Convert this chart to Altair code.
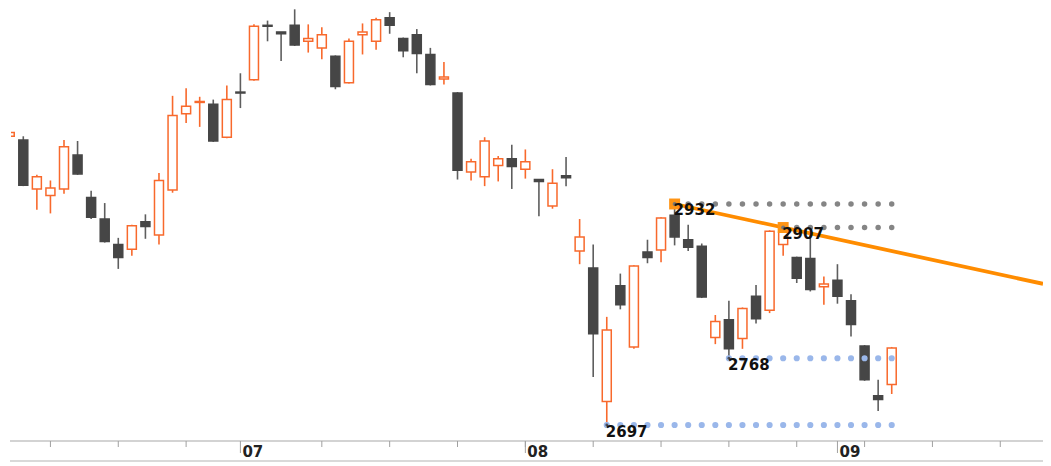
import altair as alt
import pandas as pd

# ---- candle data (trading-day index 0..65) ----
opens = [3004, 3000, 2948, 2941, 2948, 2984, 2939, 2916, 2889, 2884,
         2913, 2899, 2947, 3028, 3040, 3038, 3003, 3051, 3064, 3122,
         3115, 3122, 3105, 3098, 3089, 3061, 3112, 3105, 3130, 3108,
         3112, 3091, 3065, 3050, 2966, 2961, 2973, 2980, 2969, 2958,
         2930, 2962, 2882, 2864, 2722, 2845, 2780, 2881, 2883, 2920,
         2894, 2887, 2790, 2809, 2789, 2834, 2819, 2889, 2875, 2874,
         2844, 2851, 2829, 2781, 2728, 2740]
highs = [3009, 3004, 2963, 2957, 3000, 2999, 2946, 2933, 2896, 2910,
         2921, 2965, 3047, 3055, 3046, 3043, 3058, 3071, 3123, 3127,
         3115, 3139, 3123, 3120, 3090, 3108, 3124, 3130, 3136, 3109,
         3118, 3098, 3083, 3051, 2980, 3003, 2983, 2995, 2990, 2958,
         2969, 2982, 2916, 2889, 2812, 2858, 2867, 2894, 2918, 2932,
         2910, 2890, 2814, 2829, 2822, 2846, 2904, 2907, 2876, 2899,
         2855, 2868, 2836, 2782, 2745, 2780]
lows = [3003, 2951, 2926, 2922, 2943, 2963, 2916, 2891, 2863, 2877,
        2895, 2889, 2944, 3018, 3014, 2998, 3002, 3034, 3063, 3105,
        3084, 3100, 3093, 3086, 3054, 3060, 3091, 3096, 3113, 3088,
        3071, 3058, 3059, 2958, 2957, 2951, 2956, 2948, 2959, 2919,
        2927, 2951, 2868, 2748, 2697, 2820, 2778, 2869, 2870, 2888,
        2882, 2832, 2783, 2768, 2778, 2805, 2816, 2877, 2848, 2839,
        2825, 2826, 2791, 2744, 2712, 2730]
closes = [3008, 2952, 2961, 2949, 2993, 2964, 2918, 2892, 2875, 2909,
          2908, 2957, 3026, 3036, 3041, 2999, 3043, 3050, 3121, 3121,
          3113, 3101, 3108, 3112, 3057, 3105, 3115, 3128, 3122, 3095,
          3092, 3059, 3067, 2968, 2977, 2999, 2980, 2972, 2977, 2956,
          2954, 2960, 2897, 2794, 2798, 2825, 2866, 2875, 2917, 2897,
          2886, 2833, 2807, 2778, 2821, 2810, 2903, 2902, 2853, 2841,
          2847, 2834, 2804, 2745, 2724, 2779]

# ---- axis ticks ----
month_tick_idx = [17, 38, 61]
month_labels = ["07", "08", "09"]
week_tick_idx = [3, 8, 13, 23, 28, 33, 38, 43, 48, 53, 58, 63, 68, 73]

# ---- annotated pivots ----
res_idx = [49, 57]          # resistance highs (trend line)
res_val = [2932, 2907]
sup_idx = [44, 53]          # support lows
sup_val = [2697, 2768]

UP = "#F8692C"
DOWN = "#464646"
DOWN_WICK = "#5E5E5E"
TREND = "#FF8C00"

n = len(opens)
df = pd.DataFrame({"i": list(range(n)), "open": opens, "high": highs,
                   "low": lows, "close": closes})
df["up"] = df["close"] >= df["open"]
df["lo_body"] = df[["open", "close"]].min(axis=1)
df["hi_body"] = df[["open", "close"]].max(axis=1)
df["wick_c"] = df["up"].map({True: UP, False: DOWN_WICK})
df["stroke_c"] = df["up"].map({True: UP, False: DOWN})
df["fill_c"] = df["up"].map({True: "#FFFFFF", False: DOWN})

W = 1032
x_dom = [0.094, 76.149]
y_dom = [2680.0, 3140.4]
xs = alt.Scale(domain=x_dom, nice=False, zero=False, padding=0)
ys = alt.Scale(domain=y_dom, nice=False, zero=False, padding=0)
X = alt.X("i:Q", scale=xs, axis=None)

base = alt.Chart(df)
wicks = base.mark_rule(strokeWidth=1.6, clip=True).encode(
    x=X, y=alt.Y("low:Q", scale=ys, axis=None), y2="high:Q",
    color=alt.Color("wick_c:N", scale=None))
bodies = base.mark_bar(size=9, strokeWidth=1.5, clip=True).encode(
    x=X, y=alt.Y("lo_body:Q", scale=ys, axis=None), y2="hi_body:Q",
    fill=alt.Fill("fill_c:N", scale=None),
    stroke=alt.Stroke("stroke_c:N", scale=None))

# dotted horizontal levels, one dot per trading day
res_dots = pd.DataFrame([{"i": k, "v": v} for p, v in zip(res_idx, res_val)
                         for k in range(p, n)])
sup_dots = pd.DataFrame([{"i": k, "v": v} for p, v in zip(sup_idx, sup_val)
                         for k in range(p, n)])
gray_dots = alt.Chart(res_dots).mark_circle(size=30, color="#858585", opacity=1).encode(
    x=X, y=alt.Y("v:Q", scale=ys, axis=None))
blue_dots = alt.Chart(sup_dots).mark_circle(size=38, color="#9AB7EA", opacity=1).encode(
    x=X, y=alt.Y("v:Q", scale=ys, axis=None))

# trend line through the two resistance highs, extended to the right edge
slope = (res_val[1] - res_val[0]) / (res_idx[1] - res_idx[0])
trend_df = pd.DataFrame({"i": [res_idx[0], x_dom[1]],
                         "v": [res_val[0], res_val[0] + slope * (x_dom[1] - res_idx[0])]})
trend = alt.Chart(trend_df).mark_line(color=TREND, strokeWidth=3.8, clip=True).encode(
    x=X, y=alt.Y("v:Q", scale=ys, axis=None))

piv_df = pd.DataFrame({"i": res_idx, "v": res_val})
piv_sq = alt.Chart(piv_df).mark_square(size=120, color="#FF9414", opacity=1).encode(
    x=X, y=alt.Y("v:Q", scale=ys, axis=None))
piv_dot = alt.Chart(piv_df).mark_circle(size=16, color="#777777", opacity=1).encode(
    x=X, y=alt.Y("v:Q", scale=ys, axis=None))
sup_df = pd.DataFrame({"i": sup_idx, "v": sup_val})
sup_dot = alt.Chart(sup_df).mark_circle(size=8, color="#4A5060", opacity=1).encode(
    x=X, y=alt.Y("v:Q", scale=ys, axis=None))

lab_df = pd.DataFrame({"i": res_idx + sup_idx, "v": res_val + sup_val,
                       "t": [str(v) for v in res_val + sup_val]})
labels = alt.Chart(lab_df).mark_text(
    align="left", baseline="alphabetic", dx=-1, dy=11.5,
    font="DejaVu Sans", fontSize=15, fontWeight="bold", color="#111111").encode(
    x=X, y=alt.Y("v:Q", scale=ys, axis=None), text="t:N")

# ---- hand-drawn x axis ----
one = pd.DataFrame({"a": [0]})
axis_line = alt.Chart(one).mark_rule(color="#A8A8A8", strokeWidth=1.2).encode(
    x=alt.value(-1), x2=alt.value(W), y=alt.value(433))
bottom_line = alt.Chart(one).mark_rule(color="#B4B4B4", strokeWidth=1.2).encode(
    x=alt.value(-1), x2=alt.value(W), y=alt.value(453))
wk = alt.Chart(pd.DataFrame({"i": week_tick_idx})).mark_rule(
    color="#A0A0A0", strokeWidth=1).encode(x=X, y=alt.value(433), y2=alt.value(439))
mt_df = pd.DataFrame({"i": month_tick_idx, "t": month_labels})
mt = alt.Chart(mt_df).mark_rule(color="#A0A0A0", strokeWidth=1).encode(
    x=X, y=alt.value(433), y2=alt.value(445))
mt_lab = alt.Chart(mt_df).mark_text(
    align="left", baseline="alphabetic", dx=2, font="DejaVu Sans", fontSize=15,
    fontWeight="bold", color="#222222").encode(x=X, y=alt.value(449), text="t:N")

chart = alt.layer(
    wicks, bodies, gray_dots, blue_dots, trend, piv_sq, piv_dot, sup_dot,
    labels, axis_line, bottom_line, wk, mt, mt_lab
).properties(
    width=W, height=433,
    padding={"left": 3, "top": 0, "right": 0, "bottom": 25},
    autosize=alt.AutoSizeParams(type="none"),
).configure_view(stroke=None)

chart.save("out.html", embed_options={"renderer": "svg", "actions": False})
